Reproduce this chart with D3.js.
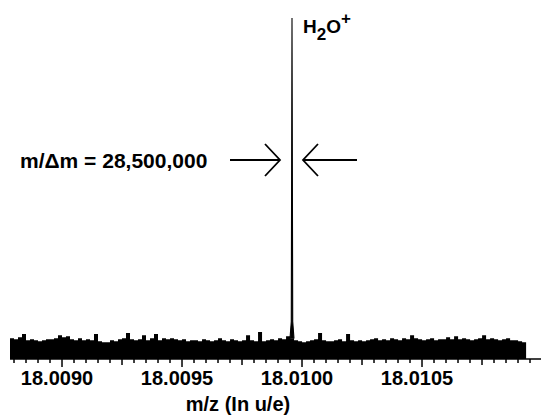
<!DOCTYPE html>
<html>
<head>
<meta charset="utf-8">
<script src="https://d3js.org/d3.v7.min.js"></script>
<style>
  body { margin: 0; background: #fff; }
  text { font-family: "Liberation Sans", Arial, Helvetica, sans-serif; font-weight: bold; fill: #000; }
</style>
</head>
<body>
<div id="chart"></div>
<script>
// --- data ---
var mzRange = [18.0087833, 18.0109958];
var majorTicks = [18.0090, 18.0095, 18.0100, 18.0105];
var tickLabels = ["18.0090", "18.0095", "18.0100", "18.0105"];

// baseline noise, sampled on a regular m/z grid (intensity in % of peak)
var noiseStart = 18.0087833;
var noiseStep = 0.00001667;
var noise = [
  6.1,5.8,6.4,7.3,5.5,5.8,5.5,5.2,5.5,5.8,
  5.8,6.1,7.0,6.4,6.7,5.8,5.5,6.1,5.5,5.8,
  5.5,7.3,5.2,4.9,4.9,5.5,5.2,5.8,6.1,7.6,
  5.8,5.5,5.8,7.0,5.5,6.1,7.3,5.5,6.1,5.8,
  6.1,5.8,5.5,5.8,5.2,5.5,5.5,5.2,5.8,5.5,
  5.2,5.5,6.1,5.5,5.2,5.8,5.5,5.2,5.5,7.0,
  5.5,5.2,7.9,5.2,5.5,5.8,5.5,6.1,5.8,6.7,
  6.1,5.5,5.2,4.9,5.2,5.5,5.8,7.6,5.5,5.2,
  5.2,5.5,5.8,5.2,7.3,5.5,5.2,5.5,5.2,5.5,
  5.8,6.1,5.5,5.8,5.5,6.1,5.8,5.5,6.1,5.8,
  7.0,6.1,5.8,5.5,5.8,6.1,5.5,5.8,5.8,6.4,
  5.8,6.7,5.8,6.1,5.8,5.5,5.8,6.1,7.0,5.8,
  6.1,5.8,5.5,5.8,6.1,5.5,5.5,5.2,4.9,4.4
];

// the H2O+ peak
var peakMz = [18.0099500, 18.0099553, 18.0099583, 18.0099613, 18.0099666];
var peakInt = [6.0, 11.0, 100, 11.0, 6.0];

var peakLabel = "28,500,000";

// --- layout ---
var W = 541, H = 416;
var svg = d3.select("#chart").append("svg")
  .attr("width", W)
  .attr("height", H);

var x = d3.scaleLinear().domain(mzRange).range([10, 541]);
var y = d3.scaleLinear().domain([0, 100]).range([359, 18]);

// noise band
var noisePts = noise.map(function(v, i) { return { mz: noiseStart + i * noiseStep, v: v }; });
var area = d3.area()
  .curve(d3.curveStepAfter)
  .x(function(d) { return x(d.mz); })
  .y0(y(0))
  .y1(function(d) { return y(d.v); });
svg.append("path")
  .datum(noisePts)
  .attr("d", area)
  .attr("fill", "#000");

// peak
var peakPts = peakMz.map(function(m, i) { return { mz: m, v: peakInt[i] }; });
svg.append("path")
  .datum(peakPts)
  .attr("d", d3.line().x(function(d) { return x(d.mz); }).y(function(d) { return y(d.v); }))
  .attr("fill", "#000")
  .attr("stroke", "#000")
  .attr("stroke-width", 1.1);

// x axis: minor ticks every 0.00005, medium at 0.00025, major at 0.0005
var minor = d3.range(0, 45).map(function(i) { return 18.0088 + i * 0.00005; })
  .filter(function(t) { return t >= mzRange[0] && t <= mzRange[1]; });

var axis = svg.append("g").attr("transform", "translate(0,359)");
axis.append("line")
  .attr("x1", x.range()[0]).attr("x2", x.range()[1])
  .attr("stroke", "#000").attr("stroke-width", 1.5);
axis.selectAll(".tick")
  .data(minor)
  .enter().append("line")
  .attr("x1", function(d) { return x(d); })
  .attr("x2", function(d) { return x(d); })
  .attr("y1", 0)
  .attr("y2", function(d) {
    var k = Math.round(d / 0.00005);
    if (k % 10 === 0) return 8;
    if (k % 5 === 0) return 6;
    return 4;
  })
  .attr("stroke", "#000")
  .attr("stroke-width", 1.5);

axis.selectAll(".lbl")
  .data(majorTicks)
  .enter().append("text")
  .attr("x", function(d) { return x(d) - 5; })
  .attr("y", 26)
  .attr("text-anchor", "middle")
  .style("font-size", "20px")
  .text(function(d, i) { return tickLabels[i]; });

svg.append("text")
  .attr("x", 238)
  .attr("y", 411)
  .attr("text-anchor", "middle")
  .style("font-size", "20px")
  .text("m/z (In u/e)");

// peak label H2O+
var px = x(peakMz[2]);
var lab = svg.append("text")
  .attr("x", px + 11)
  .attr("y", 33)
  .style("font-size", "19px");
lab.append("tspan").text("H");
lab.append("tspan").attr("dy", 7).style("font-size", "17px").text("2");
lab.append("tspan").attr("dy", -7).text("O");
lab.append("tspan").attr("dy", -9).style("font-size", "17px").text("+");

// resolution annotation with arrows
var ay = 160;
svg.append("text")
  .attr("x", 20)
  .attr("y", 168)
  .style("font-size", "21px")
  .text("m/\u0394m = " + peakLabel);

function arrow(tip, tail, dir) {
  var g = svg.append("g").attr("stroke", "#000").attr("stroke-width", 1.8).attr("fill", "none");
  g.append("line").attr("x1", tail).attr("y1", ay).attr("x2", tip).attr("y2", ay);
  g.append("path").attr("d", "M" + (tip - dir * 15) + "," + (ay - 16) + "L" + tip + "," + ay + "L" + (tip - dir * 15) + "," + (ay + 16));
}
arrow(px - 12, px - 62, 1);
arrow(px + 11, px + 65, -1);
</script>
</body>
</html>
